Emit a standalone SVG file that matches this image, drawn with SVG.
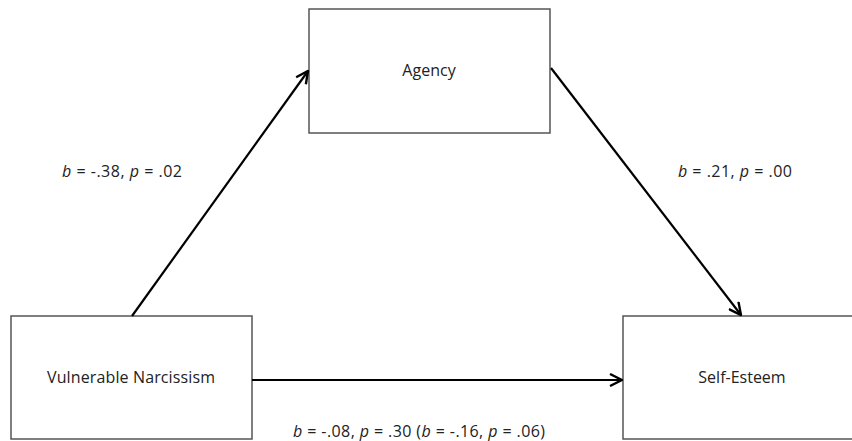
<svg xmlns="http://www.w3.org/2000/svg" width="852" height="441" viewBox="0 0 852 441">
<style>
.box{fill:#fff;stroke:#555;stroke-width:1.5}
.lbl{font-family:"Open Sans","Liberation Sans",sans-serif;font-size:16px;fill:#222;text-anchor:middle}
.stat{font-family:"Open Sans","Liberation Sans",sans-serif;font-size:16px;fill:#222}
.conn{stroke:#000;stroke-width:2.2;fill:none;marker-end:url(#arr)}
</style>
<defs>
<marker id="arr" viewBox="0 0 14 14" refX="13" refY="7" markerWidth="14" markerHeight="14" markerUnits="userSpaceOnUse" orient="auto">
<path d="M1,1 L13,7 L1,13" fill="none" stroke="#000" stroke-width="2.4"/>
</marker>
</defs>
<rect width="852" height="441" fill="#fff"/>
<g id="agency">
<rect class="box" x="309" y="9" width="241" height="124"/>
<text class="lbl" x="429" y="76">Agency</text>
</g>
<g id="vulnerable-narcissism">
<rect class="box" x="11" y="316" width="241" height="123"/>
<text class="lbl" x="131" y="383" textLength="168" lengthAdjust="spacing">Vulnerable Narcissism</text>
</g>
<g id="self-esteem">
<rect class="box" x="623" y="316" width="240" height="123"/>
<text class="lbl" x="742" y="383">Self-Esteem</text>
</g>
<g id="connectors">
<line class="conn" x1="132" y1="316" x2="308" y2="71"/>
<line class="conn" x1="551" y1="68" x2="741" y2="315"/>
<line class="conn" x1="252" y1="380" x2="622" y2="380"/>
</g>
<g id="labels">
<text class="stat" x="62" y="177" textLength="120" lengthAdjust="spacing"><tspan font-style="italic">b</tspan> = -.38, <tspan font-style="italic">p</tspan> = .02</text>
<text class="stat" x="678" y="177" textLength="114" lengthAdjust="spacing"><tspan font-style="italic">b</tspan> = .21, <tspan font-style="italic">p</tspan> = .00</text>
<text class="stat" x="293" y="437" textLength="252" lengthAdjust="spacing"><tspan font-style="italic">b</tspan> = -.08, <tspan font-style="italic">p</tspan> = .30 (<tspan font-style="italic">b</tspan> = -.16, <tspan font-style="italic">p</tspan> = .06)</text>
</g>
</svg>
